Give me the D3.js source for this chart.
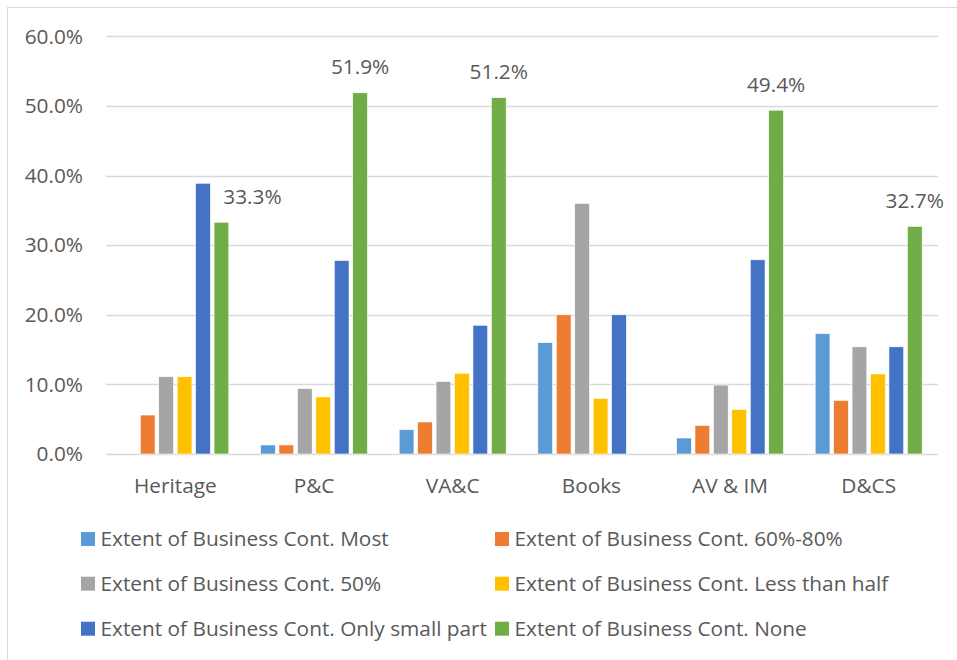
<!DOCTYPE html>
<html>
<head>
<meta charset="utf-8">
<script src="https://cdn.jsdelivr.net/npm/d3@7"></script>
<style>
  html, body { margin: 0; padding: 0; background: #fff; }
  svg { display: block; }
  text { font-family: "Open Sans", sans-serif; fill: #595959; }
</style>
</head>
<body>
<svg id="chart" width="957" height="660"></svg>
<script>
const categories = ["Heritage", "P&C", "VA&C", "Books", "AV & IM", "D&CS"];
const seriesNames = [
  "Extent of Business Cont. Most",
  "Extent of Business Cont. 60%-80%",
  "Extent of Business Cont. 50%",
  "Extent of Business Cont. Less than half",
  "Extent of Business Cont. Only small part",
  "Extent of Business Cont. None"
];
const most      = [0.0, 1.3, 3.5, 16.0, 2.3, 17.3];
const pct60_80  = [5.6, 1.3, 4.6, 20.0, 4.1, 7.7];
const pct50     = [11.1, 9.4, 10.4, 36.0, 9.9, 15.4];
const lessHalf  = [11.1, 8.2, 11.6, 8.0, 6.4, 11.5];
const smallPart = [38.9, 27.8, 18.5, 20.0, 27.9, 15.4];
const none      = [33.3, 51.9, 51.2, 0.0, 49.4, 32.7];
const yTicks = [0, 10, 20, 30, 40, 50, 60];
const colors = ["#5B9BD5", "#ED7D31", "#A5A5A5", "#FFC000", "#4472C4", "#70AD47"];

const seriesValues = [most, pct60_80, pct50, lessHalf, smallPart, none];
const labelSeries = 5; // data labels on "None"
const FS = "20.8px";

const svg = d3.select("#chart");

// outer border
svg.append("rect").attr("x", 7.5).attr("y", 7.5).attr("width", 960).attr("height", 660)
  .attr("fill", "none").attr("stroke", "#D9D9D9").attr("stroke-width", 1);

const plot = { left: 106, right: 938, top: 36.4, bottom: 454 };

const x0 = d3.scaleBand().domain(categories).range([plot.left, plot.right]).padding(0);
const x1 = d3.scaleBand().domain(d3.range(seriesNames.length))
  .range([0, x0.bandwidth()]).paddingInner(0.2).paddingOuter(0.86);
const y = d3.scaleLinear().domain([0, 60]).range([plot.bottom, plot.top]);

// gridlines
svg.append("g").selectAll("line").data(yTicks).join("line")
  .attr("x1", plot.left).attr("x2", plot.right)
  .attr("y1", d => Math.round(y(d)) + 0.5).attr("y2", d => Math.round(y(d)) + 0.5)
  .attr("stroke", "#D9D9D9").attr("stroke-width", 1.3);

// y axis labels
const yAxis = d3.axisLeft(y).tickValues(yTicks).tickFormat(d => d.toFixed(1) + "%").tickSize(0).tickPadding(0);
const gy = svg.append("g").attr("transform", `translate(83,0)`).call(yAxis);
gy.select(".domain").remove();
gy.selectAll("text").style("font-size", FS).style("font-family", '"Open Sans", sans-serif').attr("fill", "#595959");

// x axis labels
const xAxis = d3.axisBottom(x0).tickSize(0).tickPadding(0);
const gx = svg.append("g").attr("transform", `translate(0,${plot.bottom})`).call(xAxis);
gx.select(".domain").remove();
gx.selectAll("text").attr("dy", null).attr("y", 38.7).style("font-size", FS)
  .style("font-family", '"Open Sans", sans-serif').attr("fill", "#595959");

// bars
const groups = svg.append("g").selectAll("g").data(categories).join("g")
  .attr("transform", d => `translate(${x0(d)},0)`);
groups.selectAll("rect")
  .data((c, ci) => seriesValues.map((vals, si) => ({ si, v: vals[ci] })))
  .join("rect")
  .filter(d => d.v > 0)
  .attr("x", d => x1(d.si))
  .attr("width", x1.bandwidth())
  .attr("y", d => y(d.v))
  .attr("height", d => y(0) - y(d.v))
  .attr("fill", d => colors[d.si])
  .attr("stroke", "#fff").attr("stroke-width", 0.6);

// data labels
const labelG = svg.append("g");
categories.forEach((c, ci) => {
  const v = seriesValues[labelSeries][ci];
  if (!(v > 0)) return;
  const prev = seriesValues[labelSeries - 1][ci];
  let cx = x0(c) + x1(labelSeries) + x1.bandwidth() / 2;
  let by = y(v) - 18.5;
  if (prev > v) { cx += 31; by = y(v) - 18; }
  labelG.append("text").attr("x", cx).attr("y", by).attr("text-anchor", "middle")
    .style("font-size", FS).attr("fill", "#404040").text(v.toFixed(1) + "%");
});

// legend
const legendCols = [81, 495];
const legendRows = [539, 583.7, 628.7];
const lg = svg.append("g");
seriesNames.forEach((name, i) => {
  const col = i % 2, row = Math.floor(i / 2);
  const gx0 = legendCols[col], gy0 = legendRows[row];
  lg.append("rect").attr("x", gx0).attr("y", gy0 - 7).attr("width", 14).attr("height", 14).attr("fill", colors[i]);
  lg.append("text").attr("x", gx0 + 19.5).attr("y", gy0).attr("dy", "0.35em")
    .style("font-size", FS).attr("fill", "#595959").text(name);
});
</script>
</body>
</html>
